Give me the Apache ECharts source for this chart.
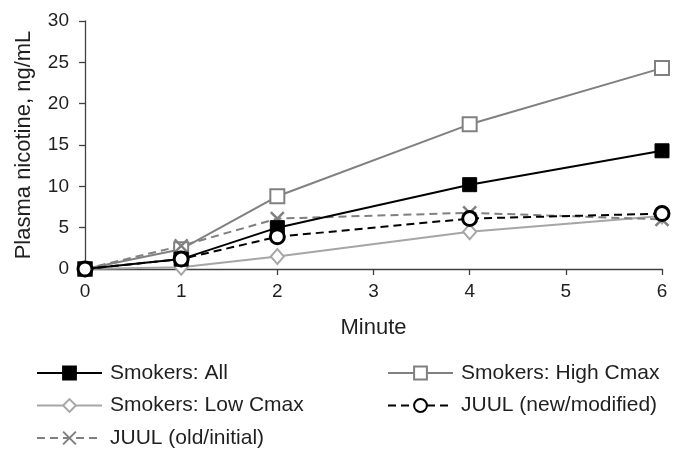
<!DOCTYPE html>
<html><head><meta charset="utf-8">
<script src="https://cdn.jsdelivr.net/npm/echarts@6/dist/echarts.min.js"></script>
<style>html,body{margin:0;padding:0;background:#fff}#c{width:675px;height:449px}</style>
</head><body><div id="c"></div>
<script>
const minutes = [0, 1, 2, 4, 6];
const smokersAll = [0, 1.2, 5.0, 10.2, 14.3];
const smokersHigh = [0, 2.4, 8.8, 17.5, 24.3];
const smokersLow = [0, 0.2, 1.5, 4.5, 6.4];
const juulNew = [0, 1.2, 3.9, 6.1, 6.7];
const juulOld = [0, 2.8, 6.1, 6.8, 6.0];
const seriesNames = ['Smokers: All', 'Smokers: High Cmax', 'Smokers: Low Cmax', 'JUUL (new/modified)', 'JUUL (old/initial)'];

const pair = arr => minutes.map((m, i) => [m, arr[i]]);
const xPath = 'path://M0,0L10,10M10,0L0,10';
const font = 'Liberation Sans, Arial, sans-serif';
const txt = '#1f1f1f';

const legendCommon = {
  orient: 'vertical', top: 362.5, itemGap: 11.5, padding: 0,
  itemWidth: 65, itemHeight: 16,
  textStyle: {fontFamily: font, fontSize: 21, lineHeight: 21, color: txt, padding: [0, 0, 0, 3]}
};

const chart = echarts.init(document.getElementById('c'), null, {renderer: 'canvas'});
chart.setOption({
  animation: false,
  backgroundColor: '#fff',
  grid: {left: 85, right: 13, top: 21, bottom: 180},
  xAxis: {
    type: 'value', min: 0, max: 6, interval: 1,
    name: 'Minute', nameLocation: 'middle', nameGap: 48,
    nameTextStyle: {fontFamily: font, fontSize: 22, color: txt},
    axisLine: {lineStyle: {color: '#404040', width: 1.3}},
    axisTick: {show: true, length: 6, lineStyle: {color: '#404040', width: 1.3}},
    axisLabel: {fontFamily: font, fontSize: 19, color: txt, margin: 13},
    splitLine: {show: false}
  },
  yAxis: {
    type: 'value', min: 0, max: 30, interval: 5,
    name: 'Plasma nicotine, ng/mL', nameLocation: 'middle', nameGap: 50,
    nameTextStyle: {fontFamily: font, fontSize: 22, color: txt},
    axisLine: {show: true, lineStyle: {color: '#404040', width: 1.3}},
    axisTick: {show: true, length: 6, lineStyle: {color: '#404040', width: 1.3}},
    axisLabel: {fontFamily: font, fontSize: 19, color: txt, margin: 16},
    splitLine: {show: false}
  },
  legend: [
    Object.assign({}, legendCommon, {data: [seriesNames[0], seriesNames[2], seriesNames[4]], left: 36}),
    Object.assign({}, legendCommon, {data: [seriesNames[1], seriesNames[3]], left: 387})
  ],
  series: [
    {
      name: seriesNames[0], type: 'line', data: pair(smokersAll), z: 4,
      symbol: 'rect', symbolSize: 14,
      lineStyle: {color: '#000', width: 2},
      itemStyle: {color: '#000', borderColor: '#000', borderWidth: 1}
    },
    {
      name: seriesNames[1], type: 'line', data: pair(smokersHigh), z: 3,
      symbol: 'rect', symbolSize: 14,
      lineStyle: {color: '#808080', width: 2},
      itemStyle: {color: '#fff', borderColor: '#808080', borderWidth: 2}
    },
    {
      name: seriesNames[2], type: 'line', data: pair(smokersLow), z: 2,
      symbol: 'diamond', symbolSize: [13, 15],
      lineStyle: {color: '#a6a6a6', width: 2},
      itemStyle: {color: '#fff', borderColor: '#a6a6a6', borderWidth: 2}
    },
    {
      name: seriesNames[3], type: 'line', data: pair(juulNew), z: 5,
      symbol: 'circle', symbolSize: 14,
      lineStyle: {color: '#000', width: 2, type: [8, 5]},
      itemStyle: {color: '#fff', borderColor: '#000', borderWidth: 3}
    },
    {
      name: seriesNames[4], type: 'line', data: pair(juulOld), z: 3,
      symbol: xPath, symbolSize: 13,
      lineStyle: {color: '#808080', width: 2, type: [8, 5]},
      itemStyle: {color: '#808080', borderColor: '#808080', borderWidth: 2.5}
    }
  ]
});
</script></body></html>
